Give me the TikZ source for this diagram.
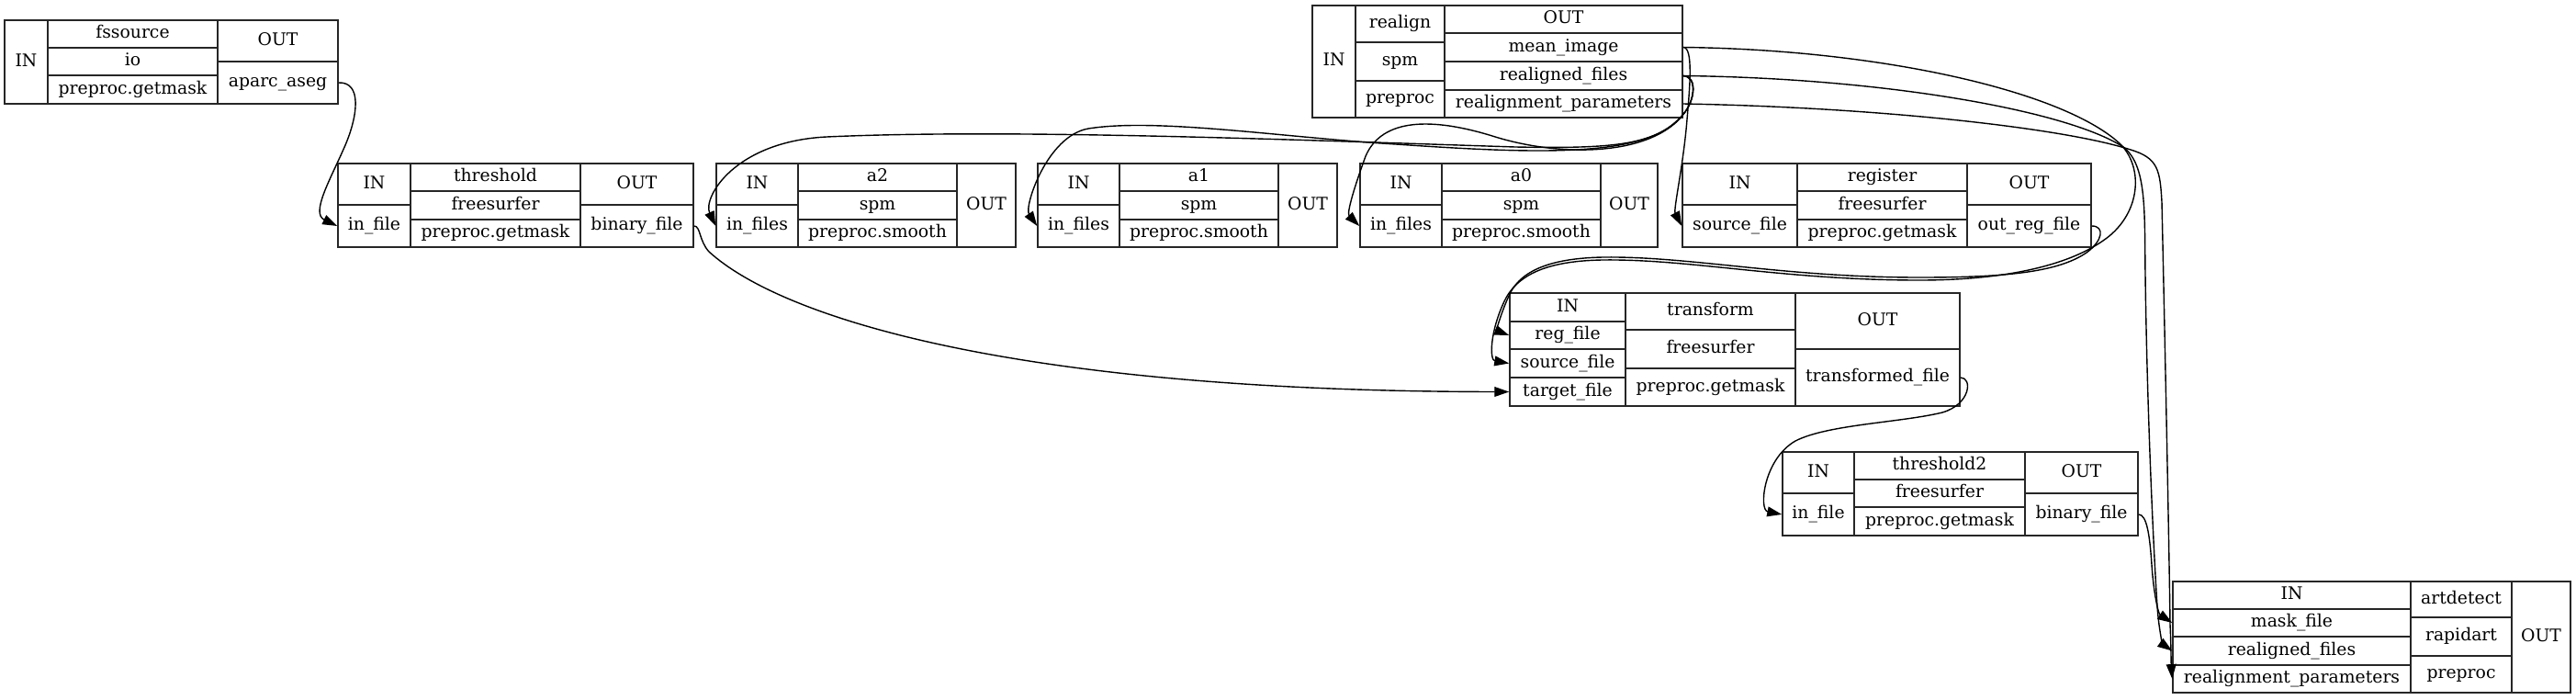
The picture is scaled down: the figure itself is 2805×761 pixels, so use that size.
\documentclass[tikz,border=0pt]{standalone}
\usepackage{fontspec}
\setmainfont{DejaVu Serif}
\usetikzlibrary{arrows.meta}
\tikzset{
  cell/.style={draw=black!85, line width=0.75pt, inner sep=0pt,
    font=\fontsize{9.4}{11}\selectfont, text height=7pt, text depth=2.3pt},
  edge/.style={draw=black, line width=0.7pt, -{Triangle[length=8pt,width=5.4pt]}},
}
\newcommand{\rcell}[6]{\node[cell, minimum width={(#4-#2)*0.5pt}, minimum height={(#5-#3)*0.5pt}] (#1) at ({(#2+#4)/2},{(#3+#5)/2}) {#6};}
\begin{document}
\begin{tikzpicture}[x=0.5pt,y=-0.5pt]
\fill[white] (0,0) rectangle (2805,761);
\useasboundingbox (0,0) rectangle (2805,761);
% fssource
\rcell{fsIn}{5}{22}{52}{113}{IN}
\rcell{fsName}{52}{22}{237}{52}{fssource}
\rcell{fsPkg}{52}{52}{237}{82}{io}
\rcell{fsWf}{52}{82}{237}{113}{preproc.getmask}
\rcell{fsOut}{237}{22}{368}{67}{OUT}
\rcell{fsAparc}{237}{67}{368}{113}{aparc\_aseg}
% threshold
\rcell{thIn}{368}{178}{447}{223}{IN}
\rcell{thInfile}{368}{223}{447}{269}{in\_file}
\rcell{thName}{447}{178}{632}{208}{threshold}
\rcell{thPkg}{447}{208}{632}{239}{freesurfer}
\rcell{thWf}{447}{239}{632}{269}{preproc.getmask}
\rcell{thOut}{632}{178}{755}{223}{OUT}
\rcell{thBin}{632}{223}{755}{269}{binary\_file}
% a2
\rcell{a2In}{780}{178}{869}{223}{IN}
\rcell{a2Files}{780}{223}{869}{269}{in\_files}
\rcell{a2Name}{869}{178}{1042}{208}{a2}
\rcell{a2Pkg}{869}{208}{1042}{239}{spm}
\rcell{a2Wf}{869}{239}{1042}{269}{preproc.smooth}
\rcell{a2Out}{1042}{178}{1106}{269}{OUT}
% a1
\rcell{a1In}{1130}{178}{1219}{223}{IN}
\rcell{a1Files}{1130}{223}{1219}{269}{in\_files}
\rcell{a1Name}{1219}{178}{1392}{208}{a1}
\rcell{a1Pkg}{1219}{208}{1392}{239}{spm}
\rcell{a1Wf}{1219}{239}{1392}{269}{preproc.smooth}
\rcell{a1Out}{1392}{178}{1456}{269}{OUT}
% a0
\rcell{a0In}{1481}{178}{1570}{223}{IN}
\rcell{a0Files}{1481}{223}{1570}{269}{in\_files}
\rcell{a0Name}{1570}{178}{1743}{208}{a0}
\rcell{a0Pkg}{1570}{208}{1743}{239}{spm}
\rcell{a0Wf}{1570}{239}{1743}{269}{preproc.smooth}
\rcell{a0Out}{1743}{178}{1805}{269}{OUT}
% realign
\rcell{raIn}{1429}{6}{1476}{128}{IN}
\rcell{raName}{1476}{6}{1573}{46}{realign}
\rcell{raPkg}{1476}{46}{1573}{88}{spm}
\rcell{raWf}{1476}{88}{1573}{128}{preproc}
\rcell{raOut}{1573}{6}{1832}{36}{OUT}
\rcell{raMean}{1573}{36}{1832}{67}{mean\_image}
\rcell{raRealigned}{1573}{67}{1832}{98}{realigned\_files}
\rcell{raParams}{1573}{98}{1832}{128}{realignment\_parameters}
% register
\rcell{rgIn}{1832}{178}{1957}{223}{IN}
\rcell{rgSource}{1832}{223}{1957}{269}{source\_file}
\rcell{rgName}{1957}{178}{2142}{208}{register}
\rcell{rgPkg}{1957}{208}{2142}{239}{freesurfer}
\rcell{rgWf}{1957}{239}{2142}{269}{preproc.getmask}
\rcell{rgOutH}{2142}{178}{2277}{223}{OUT}
\rcell{rgOut}{2142}{223}{2277}{269}{out\_reg\_file}
% transform
\rcell{trIn}{1644}{319}{1770}{350}{IN}
\rcell{trReg}{1644}{350}{1770}{380}{reg\_file}
\rcell{trSource}{1644}{380}{1770}{411}{source\_file}
\rcell{trTarget}{1644}{411}{1770}{442}{target\_file}
\rcell{trName}{1770}{319}{1955}{359}{transform}
\rcell{trPkg}{1770}{359}{1955}{401}{freesurfer}
\rcell{trWf}{1770}{401}{1955}{442}{preproc.getmask}
\rcell{trOutH}{1955}{319}{2134}{380}{OUT}
\rcell{trTrans}{1955}{380}{2134}{442}{transformed\_file}
% threshold2
\rcell{t2In}{1941}{492}{2019}{537}{IN}
\rcell{t2Infile}{1941}{537}{2019}{583}{in\_file}
\rcell{t2Name}{2019}{492}{2205}{522}{threshold2}
\rcell{t2Pkg}{2019}{522}{2205}{552}{freesurfer}
\rcell{t2Wf}{2019}{552}{2205}{583}{preproc.getmask}
\rcell{t2Out}{2205}{492}{2328}{537}{OUT}
\rcell{t2Bin}{2205}{537}{2328}{583}{binary\_file}
% artdetect
\rcell{adIn}{2366}{633}{2625}{663}{IN}
\rcell{adMask}{2366}{663}{2625}{693}{mask\_file}
\rcell{adRealigned}{2366}{693}{2625}{724}{realigned\_files}
\rcell{adParams}{2366}{724}{2625}{754}{realignment\_parameters}
\rcell{adName}{2625}{633}{2735}{672}{artdetect}
\rcell{adPkg}{2625}{672}{2735}{714}{rapidart}
\rcell{adWf}{2625}{714}{2735}{754}{preproc}
\rcell{adOut}{2735}{633}{2799}{754}{OUT}
% edges
\draw[edge] (fsAparc.east) .. controls (394,89) and (390,125) .. (376,158) .. controls (360,195) and (338,232) .. (thInfile.west);
\draw[edge] (thBin.east) .. controls (763,246) and (761,262) .. (772,274) .. controls (850,345) and (1100,426) .. (trTarget.west);
\draw[edge] (raMean.east) .. controls (1844,51) and (1840,95) .. (1837,130) .. controls (1833,180) and (1822,228) .. (rgSource.west);
\draw[edge] (raRealigned.east) .. controls (1848,83) and (1846,108) .. (1834,123) .. controls (1800,170) and (1700,172) .. (1625,148) .. controls (1560,128) and (1505,128) .. (1487,170) .. controls (1476,200) and (1466,232) .. (a0Files.west);
\draw[edge] (raRealigned.east) .. controls (1848,83) and (1846,108) .. (1834,123) .. controls (1800,172) and (1680,168) .. (1520,157) .. controls (1400,150) and (1260,128) .. (1185,140) .. controls (1140,148) and (1115,225) .. (a1Files.west);
\draw[edge] (raRealigned.east) .. controls (1848,83) and (1846,108) .. (1834,123) .. controls (1805,158) and (1760,162) .. (1650,160) .. controls (1400,152) and (1100,140) .. (900,149) .. controls (800,154) and (765,215) .. (a2Files.west);
\draw[edge] (raRealigned.east) .. controls (2050,85) and (2250,120) .. (2312,160) .. controls (2338,180) and (2335,230) .. (2336,300) .. controls (2338,450) and (2345,600) .. (2349,660) .. controls (2351,690) and (2356,702) .. (adRealigned.west);
\draw[edge] (raParams.east) .. controls (2050,117) and (2250,140) .. (2320,163) .. controls (2350,172) and (2352,185) .. (2354,220) .. controls (2358,400) and (2362,600) .. (2363,680) .. controls (2364,700) and (2364,720) .. (adParams.west);
\draw[edge] (raMean.east) .. controls (2050,54) and (2250,100) .. (2310,158) .. controls (2335,185) and (2330,235) .. (2290,262) .. controls (2250,290) and (2180,305) .. (2090,305) .. controls (1950,305) and (1850,284) .. (1760,283) .. controls (1700,282) and (1655,292) .. (1638,328) .. controls (1622,362) and (1622,392) .. (trSource.west);
\draw[edge] (rgOut.east) .. controls (2292,246) and (2290,262) .. (2272,275) .. controls (2240,297) and (2180,302) .. (2090,302) .. controls (1950,302) and (1850,281) .. (1760,280) .. controls (1700,279) and (1660,290) .. (1645,318) .. controls (1634,340) and (1630,360) .. (trReg.west);
\draw[edge] (trTrans.east) .. controls (2148,411) and (2146,440) .. (2115,449) .. controls (2070,460) and (1990,462) .. (1955,480) .. controls (1920,500) and (1915,555) .. (t2Infile.west);
\draw[edge] (t2Bin.east) .. controls (2338,560) and (2341,585) .. (2343,615) .. controls (2345,645) and (2350,668) .. (adMask.west);
\end{tikzpicture}
\end{document}
